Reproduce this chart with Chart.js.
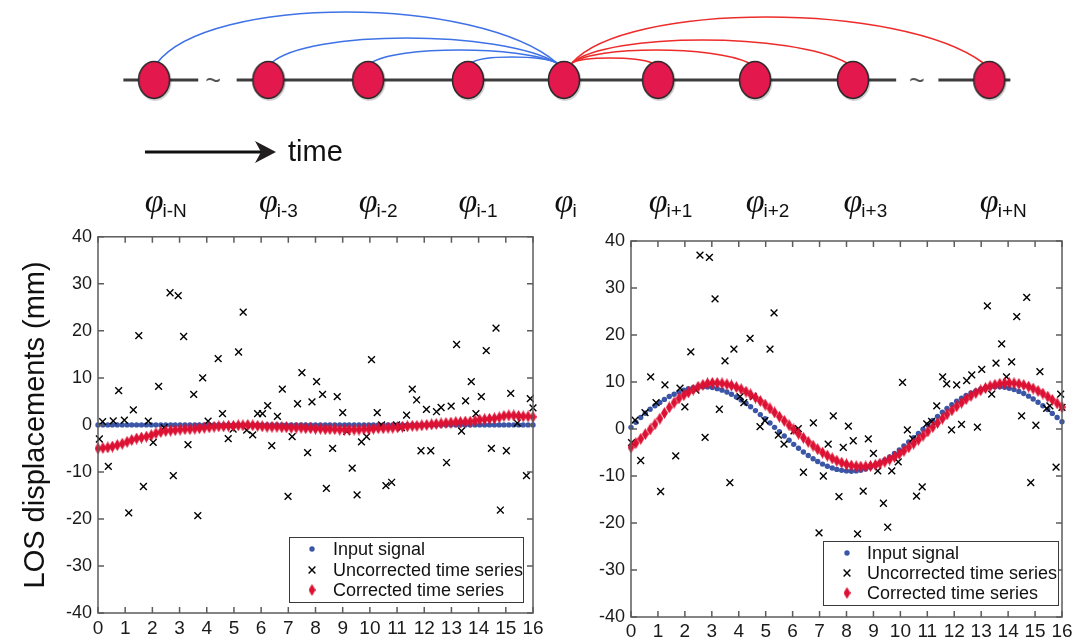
<!DOCTYPE html>
<html>
<head>
<meta charset="utf-8">
<script src="https://cdn.jsdelivr.net/npm/chart.js@4.4.1/dist/chart.umd.min.js"></script>
<style>
  body { margin: 0; background: #fff; width: 1084px; height: 643px; overflow: hidden; position: relative; }
  canvas { position: absolute; }
</style>
</head>
<body>
<canvas id="diagram" width="1084" height="225" style="left:0;top:0"></canvas>
<canvas id="leftChart" width="550" height="423" style="left:0;top:220px"></canvas>
<canvas id="rightChart" width="524" height="423" style="left:560px;top:220px"></canvas>
<script>
// ---- diagram data ----
const nodeLabels = ["i-N", "i-3", "i-2", "i-1", "i", "i+1", "i+2", "i+3", "i+N"];
const nodePos = [-4.27, -3.08, -2.04, -1, 0, 0.98, 1.99, 3.01, 4.43];
const arcPeak = [0.68, 0.42, 0.30, 0.23, null, 0.22, 0.30, 0.40, 0.63];
const baseSegments = [[-4.59, -3.81], [-3.41, 3.46], [3.90, 4.65]];
const tildePos = [-3.656, 3.677];

// ---- time series data ----
const times = [
  0, 0.18, 0.36, 0.53, 0.71, 0.89, 1.07, 1.24, 1.42, 1.6,
  1.78, 1.96, 2.13, 2.31, 2.49, 2.67, 2.84, 3.02, 3.2, 3.38,
  3.56, 3.73, 3.91, 4.09, 4.27, 4.44, 4.62, 4.8, 4.98, 5.16,
  5.33, 5.51, 5.69, 5.87, 6.04, 6.22, 6.4, 6.58, 6.76, 6.93,
  7.11, 7.29, 7.47, 7.64, 7.82, 8.0, 8.18, 8.36, 8.53, 8.71,
  8.89, 9.07, 9.24, 9.42, 9.6, 9.78, 9.96, 10.13, 10.31, 10.49,
  10.67, 10.84, 11.02, 11.2, 11.38, 11.56, 11.73, 11.91, 12.09, 12.27,
  12.44, 12.62, 12.8, 12.98, 13.16, 13.33, 13.51, 13.69, 13.87, 14.04,
  14.22, 14.4, 14.58, 14.76, 14.93, 15.11, 15.29, 15.47, 15.64, 15.82, 16.0
];

const leftInput = [
  0, 0, 0, 0, 0, 0, 0, 0, 0, 0,
  0, 0, 0, 0, 0, 0, 0, 0, 0, 0,
  0, 0, 0, 0, 0, 0, 0, 0, 0, 0,
  0, 0, 0, 0, 0, 0, 0, 0, 0, 0,
  0, 0, 0, 0, 0, 0, 0, 0, 0, 0,
  0, 0, 0, 0, 0, 0, 0, 0, 0, 0,
  0, 0, 0, 0, 0, 0, 0, 0, 0, 0,
  0, 0, 0, 0, 0, 0, 0, 0, 0, 0,
  0, 0, 0, 0, 0, 0, 0, 0, 0, 0, 0
];
const leftCorrected = [
  -5.0, -4.9, -4.8, -4.6, -4.3, -4.0, -3.6, -3.2, -2.9, -2.7,
  -2.5, -2.2, -1.8, -1.5, -1.3, -1.2, -1.1, -1.0, -0.9, -0.9,
  -0.8, -0.7, -0.6, -0.5, -0.4, -0.3, -0.3, -0.2, -0.2, -0.1,
  -0.1, 0.0, -0.1, -0.2, -0.3, -0.4, -0.4, -0.4, -0.5, -0.5,
  -0.6, -0.6, -0.6, -0.7, -0.7, -0.8, -0.8, -0.9, -0.9, -0.9,
  -1.0, -1.0, -1.0, -1.0, -1.0, -0.9, -0.9, -0.8, -0.7, -0.7,
  -0.6, -0.6, -0.5, -0.4, -0.3, -0.2, -0.2, -0.1, 0.0, 0.1,
  0.2, 0.3, 0.4, 0.5, 0.6, 0.6, 0.7, 0.7, 0.9, 1.1,
  1.2, 1.3, 1.4, 1.6, 1.9, 2.0, 2.0, 1.9, 1.8, 1.8, 1.7
];
const leftUncorrectedT = [
  0.05, 0.17, 0.38, 0.56, 0.76, 0.97, 1.13, 1.3, 1.5, 1.67,
  1.85, 2.03, 2.23, 2.43, 2.65, 2.77, 2.95, 3.15, 3.31, 3.52,
  3.67, 3.85, 4.05, 4.42, 4.58, 4.79, 4.97, 5.17, 5.34, 5.47,
  5.69, 5.87, 6.05, 6.24, 6.39, 6.6, 6.78, 6.99, 7.14, 7.34,
  7.5, 7.71, 7.87, 8.04, 8.26, 8.4, 8.63, 8.8, 9.0, 9.15,
  9.35, 9.53, 9.69, 9.88, 10.06, 10.27, 10.43, 10.59, 10.8, 10.98,
  11.16, 11.35, 11.56, 11.72, 11.88, 12.08, 12.24, 12.45, 12.62, 12.82,
  12.99, 13.19, 13.37, 13.52, 13.73, 13.9, 14.1, 14.28, 14.47, 14.64,
  14.8, 15.02, 15.18, 15.42, 15.76, 15.9, 16.0
];
const leftUncorrected = [
  -3.0, 0.7, -8.8, 0.85, 7.3, 1.0, -18.7, 3.2, 19.0, -13.1,
  0.8, -3.7, 8.2, -0.6, 28.1, -10.8, 27.5, 18.8, -4.2, 6.5,
  -19.3, 10.0, 0.8, 14.1, 2.4, -2.9, -0.9, 15.5, 24.0, -1.1,
  -2.1, 2.4, 2.4, 4.1, -4.4, 1.8, 7.6, -15.2, -2.5, 4.5,
  11.1, -5.9, 4.9, 9.2, 6.5, -13.5, -5.0, 6.0, 2.6, -1.4,
  -9.2, -14.9, -3.6, -2.5, 13.9, 2.6, 0.0, -12.9, -12.2, 0.0,
  -0.6, 2.1, 7.6, 5.3, -5.5, 3.3, -5.5, 2.8, 3.7, -8.0,
  4.0, 17.1, -1.3, 5.1, 9.2, 2.4, 6.0, 15.8, -5.0, 20.6,
  -18.1, -5.5, 6.7, 0.4, -10.8, 5.6, 3.6
];

const rightInput = [
  0.35, 1.45, 2.45, 3.35, 4.2, 4.95, 5.65, 6.3, 6.9, 7.4,
  7.85, 8.24, 8.56, 8.80, 8.95, 9.00, 8.96, 8.82, 8.59, 8.27,
  7.87, 7.38, 6.81, 6.17, 5.47, 4.72, 3.91, 3.06, 2.17, 1.27,
  0.35, -0.58, -1.49, -2.39, -3.27, -4.10, -4.90, -5.64, -6.32, -6.93,
  -7.47, -7.93, -8.31, -8.60, -8.80, -8.91, -9.00, -8.92, -8.75, -8.49,
  -8.14, -7.71, -7.19, -6.60, -5.94, -5.22, -4.44, -3.62, -2.75, -1.86,
  -0.95, -0.03, 0.89, 1.80, 2.69, 3.56, 4.39, 5.17, 5.90, 6.56,
  7.16, 7.67, 8.12, 8.47, 8.74, 8.91, 8.99, 8.98, 8.87, 8.67,
  8.38, 8.00, 7.54, 6.99, 6.38, 5.70, 4.96, 4.16, 3.32, 2.45, 1.55
];
const rightCorrected = [
  -3.9, -3.0, -2.1, -1.1, -0.1, 1.0, 2.2, 3.4, 4.6, 5.6,
  6.5, 7.2, 7.8, 8.4, 9.0, 9.4, 9.7, 9.8, 9.8, 9.70,
  9.52, 9.26, 8.90, 8.47, 7.95, 7.35, 6.69, 5.96, 5.19, 4.37,
  3.52, 2.63, 1.73, 0.81, -0.10, -1.00, -1.87, -2.72, -3.54, -4.30,
  -5.02, -5.66, -6.24, -6.75, -7.17, -7.52, -7.77, -7.93, -8.00, -7.97,
  -7.85, -7.65, -7.35, -6.96, -6.49, -5.94, -5.33, -4.65, -3.90, -3.11,
  -2.28, -1.41, -0.51, 0.39, 1.30, 2.21, 3.10, 3.97, 4.81, 5.61,
  6.35, 7.05, 7.67, 8.23, 8.71, 9.10, 9.41, 9.63, 9.76, 9.80,
  9.74, 9.59, 9.36, 9.02, 8.61, 8.11, 7.54, 6.90, 6.20, 5.44, 4.65
];
const rightUncorrectedT = [
  0.02, 0.15, 0.36, 0.52, 0.73, 0.93, 1.1, 1.26, 1.66, 1.82,
  2.0, 2.22, 2.41, 2.56, 2.75, 2.91, 3.12, 3.28, 3.49, 3.67,
  3.82, 4.05, 4.19, 4.42, 4.54, 4.79, 4.97, 5.16, 5.31, 5.47,
  5.68, 6.05, 6.21, 6.4, 6.77, 6.98, 7.14, 7.32, 7.51, 7.72,
  7.88, 8.07, 8.25, 8.41, 8.62, 8.81, 9.0, 9.16, 9.37, 9.53,
  9.68, 9.92, 10.08, 10.26, 10.46, 10.6, 10.81, 10.98, 11.16, 11.35,
  11.57, 11.72, 11.9, 12.09, 12.27, 12.46, 12.65, 12.86, 13.02, 13.23,
  13.39, 13.55, 13.76, 13.94, 14.13, 14.32, 14.5, 14.69, 14.84, 15.03,
  15.18, 15.43, 15.55, 15.78, 15.95, 16.0
];
const rightUncorrected = [
  -2.9, 1.9, -6.7, 3.5, 11.1, 5.6, -13.3, 9.4, -5.7, 8.7,
  4.7, 16.4, 8.3, 37.0, -1.8, 36.5, 27.7, 4.2, 14.5, -11.4,
  17.0, 6.9, 5.6, 19.3, 6.9, 0.5, 1.8, 17.0, 24.7, -1.3,
  -3.2, -0.4, 0.1, -9.2, 1.3, -22.1, -10.0, -3.2, 2.8, -14.4,
  -3.9, 0.6, -2.5, -22.3, -13.2, -2.1, -5.2, -8.9, -15.8, -20.9,
  -8.9, -7.0, 9.9, -0.2, -2.1, -14.3, -12.3, 1.1, 1.6, 4.9,
  11.1, 9.6, -0.2, 9.4, 1.0, 10.3, 11.5, 0.4, 12.7, 26.2,
  7.4, 14.0, 18.1, 11.1, 14.3, 23.9, 2.8, 28.0, -11.4, 0.8,
  12.2, 4.4, 4.9, -8.1, 7.4, 4.6
];

const seriesLabels = ["Input signal", "Uncorrected time series", "Corrected time series"];

const FONT = '"Liberation Sans", Arial, Helvetica, sans-serif';
const BLUE = "#3b56a6";
const RED = "#dc1133";
const ARC_BLUE = "#3f72e6";
const ARC_RED = "#ee2b2b";
const FRAME = "#5c5c5c";

// tall red diamond marker
function makeDiamond() {
  const c = document.createElement("canvas");
  c.width = 7; c.height = 12;
  const g = c.getContext("2d");
  g.fillStyle = RED;
  g.beginPath();
  g.moveTo(3.5, 0); g.lineTo(7, 6); g.lineTo(3.5, 12); g.lineTo(0, 6);
  g.closePath(); g.fill();
  return c;
}
const diamond = makeDiamond();

// node marker for the diagram
function makeNode() {
  const c = document.createElement("canvas");
  c.width = 38; c.height = 44;
  const g = c.getContext("2d");
  g.fillStyle = "rgba(0,0,0,0.18)";
  g.beginPath(); g.ellipse(20, 23.5, 16.5, 19.5, 0, 0, Math.PI * 2); g.fill();
  g.fillStyle = "#e3184c";
  g.strokeStyle = "#2a2a2a";
  g.lineWidth = 1.6;
  g.beginPath(); g.ellipse(19, 22, 15.5, 18.5, 0, 0, Math.PI * 2); g.fill(); g.stroke();
  return c;
}
const nodeImg = makeNode();

// frame with inward ticks, matlab style
const framePlugin = {
  id: "frameTicks",
  afterDatasetsDraw(chart) {
    const { ctx, chartArea: a, scales: { x, y } } = chart;
    ctx.save();
    ctx.strokeStyle = FRAME;
    ctx.lineWidth = 1.5;
    ctx.strokeRect(a.left, a.top, a.right - a.left, a.bottom - a.top);
    ctx.beginPath();
    x.ticks.forEach(t => {
      const px = x.getPixelForValue(t.value);
      ctx.moveTo(px, a.bottom); ctx.lineTo(px, a.bottom - 6);
      ctx.moveTo(px, a.top); ctx.lineTo(px, a.top + 6);
    });
    y.ticks.forEach(t => {
      const py = y.getPixelForValue(t.value);
      ctx.moveTo(a.left, py); ctx.lineTo(a.left + 6, py);
      ctx.moveTo(a.right, py); ctx.lineTo(a.right - 6, py);
    });
    ctx.stroke();
    ctx.restore();
  }
};

// boxed legend in the lower right of the axes
const legendBox = {
  id: "legendBox",
  afterDraw(chart, args, o) {
    const { ctx, chartArea: a } = chart;
    const left = a.right - o.right - o.width;
    const top = a.bottom - o.bottom - o.height;
    ctx.save();
    ctx.fillStyle = "#fff";
    ctx.fillRect(left, top, o.width, o.height);
    ctx.strokeStyle = "#3a3a3a";
    ctx.lineWidth = 1;
    ctx.strokeRect(left + 0.5, top + 0.5, o.width, o.height);
    ctx.font = "18px " + FONT;
    ctx.textBaseline = "middle";
    chart.data.datasets.forEach((ds, i) => {
      const cy = top + o.rows[i];
      ctx.fillStyle = ds.backgroundColor || "#000";
      ctx.strokeStyle = ds.borderColor || "#000";
      ctx.lineWidth = ds.borderWidth || 1;
      Chart.helpers.drawPoint(ctx, { pointStyle: ds.pointStyle, radius: ds.pointRadius, rotation: 0, borderWidth: ds.borderWidth }, left + o.marker, cy);
      ctx.fillStyle = "#111";
      ctx.fillText(ds.label, left + o.text, cy + 1);
    });
    ctx.restore();
  }
};

function seriesSets(input, uncT, uncV, corrected) {
  return [
    {
      label: seriesLabels[0],
      data: times.map((t, i) => ({ x: t, y: input[i] })),
      pointStyle: "circle", pointRadius: 2.7, borderWidth: 0,
      backgroundColor: BLUE, borderColor: BLUE, order: 2, clip: 10
    },
    {
      label: seriesLabels[1],
      data: uncT.map((t, i) => ({ x: t, y: uncV[i] })),
      pointStyle: "crossRot", pointRadius: 4.8, borderWidth: 1.4,
      borderColor: "#000", backgroundColor: "#000", order: 1, clip: 10
    },
    {
      label: seriesLabels[2],
      data: times.map((t, i) => ({ x: t, y: corrected[i] })),
      pointStyle: diamond, pointRadius: 5, borderWidth: 0,
      backgroundColor: RED, borderColor: RED, order: 0, clip: 10
    }
  ];
}

function plotOptions(c) {
  return {
    responsive: false, animation: false, devicePixelRatio: 1,
    layout: { autoPadding: false, padding: { left: 0, right: c.padRight, top: c.padTop, bottom: 0 } },
    plugins: {
      legend: { display: false }, tooltip: { enabled: false },
      legendBox: c.legend
    },
    scales: {
      x: {
        type: "linear", min: 0, max: 16,
        afterFit(s) { s.height = c.xHeight; },
        ticks: { stepSize: 1, autoSkip: false, maxRotation: 0, padding: c.xPad, color: "#1a1a1a", font: { family: FONT, size: 19 } },
        grid: { display: false, drawTicks: false }, border: { display: false }
      },
      y: {
        min: -40, max: 40,
        afterFit(s) { s.width = c.yWidth; },
        ticks: { stepSize: 10, padding: 6, color: "#1a1a1a", font: { family: FONT, size: 18 } },
        grid: { display: false, drawTicks: false }, border: { display: false },
        title: { display: c.title, text: "LOS displacements (mm)", color: "#111", font: { family: FONT, size: 29 }, padding: { top: 19, bottom: 0 } }
      }
    }
  };
}

new Chart(document.getElementById("leftChart"), {
  type: "scatter",
  data: { datasets: seriesSets(leftInput, leftUncorrectedT, leftUncorrected, leftCorrected) },
  options: plotOptions({
    padRight: 17, padTop: 15, xHeight: 30, yWidth: 98, xPad: 4, title: true,
    legend: { width: 234, height: 65, right: 10, bottom: 11, rows: [12, 33, 53], marker: 23, text: 44 }
  }),
  plugins: [framePlugin, legendBox]
});

new Chart(document.getElementById("rightChart"), {
  type: "scatter",
  data: { datasets: seriesSets(rightInput, rightUncorrectedT, rightUncorrected, rightCorrected) },
  options: plotOptions({
    padRight: 22, padTop: 21, xHeight: 26, yWidth: 71, xPad: 3, title: false,
    legend: { width: 235, height: 64, right: 4, bottom: 12, rows: [12, 32, 52], marker: 24, text: 44 }
  }),
  plugins: [framePlugin, legendBox]
});

// ---- top diagram ----
const diagramDecor = {
  id: "diagramDecor",
  beforeDatasetsDraw(chart) {
    const { ctx, scales: { x, y } } = chart;
    ctx.save();
    ctx.lineWidth = 1.6;
    const yb = y.getPixelForValue(0.17);
    nodePos.forEach((p, i) => {
      if (arcPeak[i] == null) return;
      const left = p < 0;
      const x0 = left ? x.getPixelForValue(p) + 3 : x.getPixelForValue(0) + 8;
      const x1 = left ? x.getPixelForValue(0) - 7 : x.getPixelForValue(p) - 6;
      const yc = yb + (y.getPixelForValue(arcPeak[i]) - yb) * 4 / 3;
      const dx = x1 - x0;
      ctx.strokeStyle = left ? ARC_BLUE : ARC_RED;
      ctx.beginPath();
      ctx.moveTo(x0, yb);
      ctx.bezierCurveTo(x0 + 0.13 * dx, yc, x1 - 0.2 * dx, yc, x1, yb);
      ctx.stroke();
    });
    ctx.restore();
  },
  afterDatasetsDraw(chart) {
    const { ctx, scales: { x, y } } = chart;
    ctx.save();
    // tildes in the gaps of the time line
    ctx.fillStyle = "#555";
    ctx.font = "27px " + FONT;
    ctx.textAlign = "center";
    ctx.textBaseline = "middle";
    tildePos.forEach(p => ctx.fillText("~", x.getPixelForValue(p), y.getPixelForValue(0) + 3));

    // time arrow
    const ay = y.getPixelForValue(-0.72);
    const ax0 = x.getPixelForValue(-4.365), ax1 = x.getPixelForValue(-3.0);
    ctx.strokeStyle = "#111";
    ctx.lineWidth = 3;
    ctx.beginPath(); ctx.moveTo(ax0, ay); ctx.lineTo(ax1 - 12, ay); ctx.stroke();
    ctx.fillStyle = "#231f20";
    ctx.beginPath();
    ctx.moveTo(ax1, ay); ctx.lineTo(ax1 - 21, ay - 11); ctx.lineTo(ax1 - 15, ay);
    ctx.lineTo(ax1 - 21, ay + 11); ctx.closePath(); ctx.fill();
    ctx.fillStyle = "#111";
    ctx.font = "29px " + FONT;
    ctx.textAlign = "left";
    ctx.fillText("time", x.getPixelForValue(-2.875), ay + 1);

    // phi labels
    const yPhi = y.getPixelForValue(-1.32);
    nodePos.forEach((p, i) => {
      const px = x.getPixelForValue(p);
      ctx.font = 'italic 34px "Liberation Serif", "DejaVu Serif", serif';
      ctx.textAlign = "center";
      ctx.textBaseline = "alphabetic";
      const w = ctx.measureText("\u03c6").width;
      ctx.fillText("\u03c6", px, yPhi);
      ctx.font = '19px "Liberation Sans Narrow", "Liberation Sans", Arial, sans-serif';
      ctx.textAlign = "left";
      ctx.fillText(nodeLabels[i], px + w / 2 - 1, yPhi + 5);
    });
    ctx.restore();
  }
};

new Chart(document.getElementById("diagram"), {
  type: "scatter",
  data: {
    datasets: [
      ...baseSegments.map(seg => ({
        type: "line", data: seg.map(v => ({ x: v, y: 0 })),
        borderColor: "#3d3d3d", borderWidth: 3, pointRadius: 0, order: 2
      })),
      {
        data: nodePos.map(v => ({ x: v, y: 0 })),
        pointStyle: nodeImg, pointRadius: 18, order: 0
      }
    ]
  },
  options: {
    responsive: false, animation: false, devicePixelRatio: 1,
    layout: { autoPadding: false, padding: 0 },
    plugins: { legend: { display: false }, tooltip: { enabled: false } },
    scales: {
      x: { type: "linear", display: false, bounds: "data", min: -5.875, max: 5.4167 },
      y: { type: "linear", display: false, bounds: "data", min: -1.45, max: 0.8 }
    }
  },
  plugins: [diagramDecor]
});
</script>
</body>
</html>
